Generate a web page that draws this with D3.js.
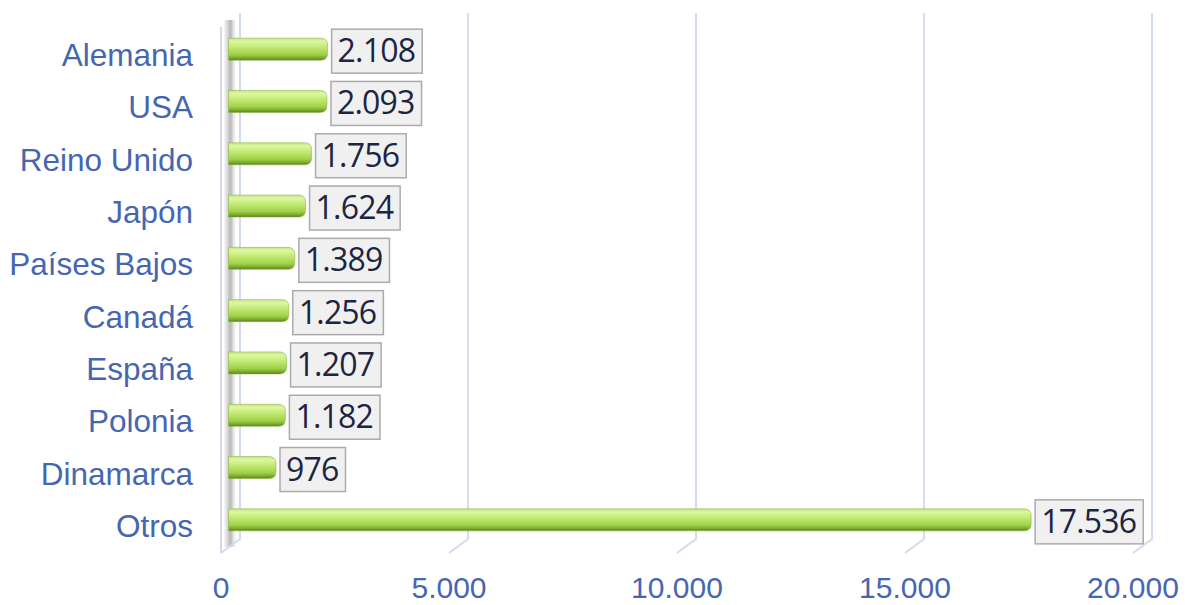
<!DOCTYPE html>
<html>
<head>
<meta charset="utf-8">
<script src="https://cdn.jsdelivr.net/npm/d3@7"></script>
<style>
    body { margin: 0; background: #ffffff; }
    svg { display: block; }
</style>
</head>
<body>
<div id="chart"></div>
<script>
    // data
    const countries = ['Alemania', 'USA', 'Reino Unido', 'Japón', 'Países Bajos',
        'Canadá', 'España', 'Polonia', 'Dinamarca', 'Otros'];
    const values = [2108, 2093, 1756, 1624, 1389, 1256, 1207, 1182, 976, 17536];
    const ticks = [0, 5000, 10000, 15000, 20000];
    const tickLabels = ['0', '5.000', '10.000', '15.000', '20.000'];

    const width = 1192;
    const height = 605;

    // depth offset between the back wall and the front of the 3d box
    const depthX = -19;
    const depthY = 14;

    const backTop = 13;
    const backBottom = 539;

    const svg = d3.select('#chart')
        .append('svg')
        .attr('width', width)
        .attr('height', height);

    const defs = svg.append('defs');

    const barGrad = defs.append('linearGradient')
        .attr('id', 'barGrad')
        .attr('x1', 0).attr('y1', 0).attr('x2', 0).attr('y2', 1);
    [[0, '#c9e584'], [0.15, '#dcf7a0'], [0.45, '#bfe76d'], [0.75, '#9fd048'], [0.9, '#7aa92c'], [1, '#557f18']]
        .forEach(s => barGrad.append('stop').attr('offset', s[0]).attr('stop-color', s[1]));

    const wallGrad = defs.append('linearGradient')
        .attr('id', 'wallGrad')
        .attr('x1', 0).attr('y1', 0).attr('x2', 1).attr('y2', 0);
    [[0, '#f6f6f6'], [0.35, '#c4c4c4'], [0.55, '#a6a6a6'], [0.8, '#e0e0e0'], [1, '#fbfbfb']]
        .forEach(s => wallGrad.append('stop').attr('offset', s[0]).attr('stop-color', s[1]));

    // back wall x scale
    const x = d3.scaleLinear()
        .domain([0, 20000])
        .range([240, 1152]);

    const y = d3.scaleBand()
        .domain(countries)
        .range([23, 546])
        .paddingInner(0.58)
        .paddingOuter(0.29);

    // left wall shading
    svg.append('rect')
        .attr('x', 224)
        .attr('y', 20)
        .attr('width', 12)
        .attr('height', 527)
        .attr('fill', 'url(#wallGrad)')
        .attr('opacity', 0.8);

    // left wall front edge
    svg.append('line')
        .attr('x1', x(0) + depthX).attr('y1', backTop + depthY)
        .attr('x2', x(0) + depthX).attr('y2', backBottom + depthY)
        .attr('stroke', '#d3dbef')
        .attr('stroke-width', 2);

    // gridlines on the back wall with their floor edge
    svg.append('g')
        .selectAll('path')
        .data(ticks)
        .join('path')
        .attr('d', d => `M${x(d)},${backTop}V${backBottom}L${x(d) + depthX},${backBottom + depthY}`)
        .attr('fill', 'none')
        .attr('stroke', '#d3dbef')
        .attr('stroke-width', 2);

    // bars
    const barX0 = x(0) + depthX / 2 - 2;
    const barH = 22;
    const bars = svg.append('g');

    bars.selectAll('path')
        .data(countries)
        .join('path')
        .attr('d', (d, i) => {
            const x1 = barX0 + x(values[i]) - x(0) + 3;
            const yc = y(d) + y.bandwidth() / 2;
            const y0 = yc - barH / 2;
            const r = 7;
            return `M${barX0},${y0}H${x1 - r}Q${x1},${y0} ${x1},${y0 + r}V${y0 + barH - r}` +
                `Q${x1},${y0 + barH} ${x1 - r},${y0 + barH}H${barX0}Z`;
        })
        .attr('fill', 'url(#barGrad)')
        .attr('stroke', '#8db54a')
        .attr('stroke-width', 0.6);

    // value labels in boxes
    const labels = svg.append('g')
        .selectAll('g')
        .data(countries)
        .join('g')
        .attr('transform', (d, i) => {
            const x1 = barX0 + x(values[i]) - x(0) + 3;
            const yc = y(d) + y.bandwidth() / 2 + 2;
            return `translate(${x1 + 4},${yc})`;
        });

    labels.append('rect')
        .attr('class', 'box')
        .attr('y', -22)
        .attr('height', 44)
        .attr('fill', '#f0f0f0')
        .attr('stroke', '#ababab')
        .attr('stroke-width', 1.5);

    labels.append('text')
        .text((d, i) => d3.format(',')(values[i]).replace(/,/g, '.'))
        .attr('x', 6)
        .attr('y', 11)
        .attr('font-family', "'Open Sans', sans-serif")
        .attr('font-size', 32)
        .attr('font-weight', 500)
        .attr('letter-spacing', -0.8)
        .attr('fill', '#1b2542');

    labels.each(function () {
        const g = d3.select(this);
        const w = g.select('text').node().getComputedTextLength();
        g.select('rect').attr('width', w + 13);
    });

    // category labels
    svg.append('g')
        .selectAll('text')
        .data(countries)
        .join('text')
        .text(d => d)
        .attr('x', 193)
        .attr('y', d => y(d) + y.bandwidth() / 2 + 17)
        .attr('text-anchor', 'end')
        .attr('font-family', "'Liberation Sans', Arial, sans-serif")
        .attr('font-size', 31.5)
        .attr('fill', '#4666b1');

    // x tick labels on the front edge
    svg.append('g')
        .selectAll('text')
        .data(ticks)
        .join('text')
        .text((d, i) => tickLabels[i])
        .attr('x', d => x(d) + depthX)
        .attr('y', 598)
        .attr('text-anchor', 'middle')
        .attr('font-family', "'Liberation Sans', Arial, sans-serif")
        .attr('font-size', 30)
        .attr('fill', '#4666b1');
</script>
</body>
</html>
